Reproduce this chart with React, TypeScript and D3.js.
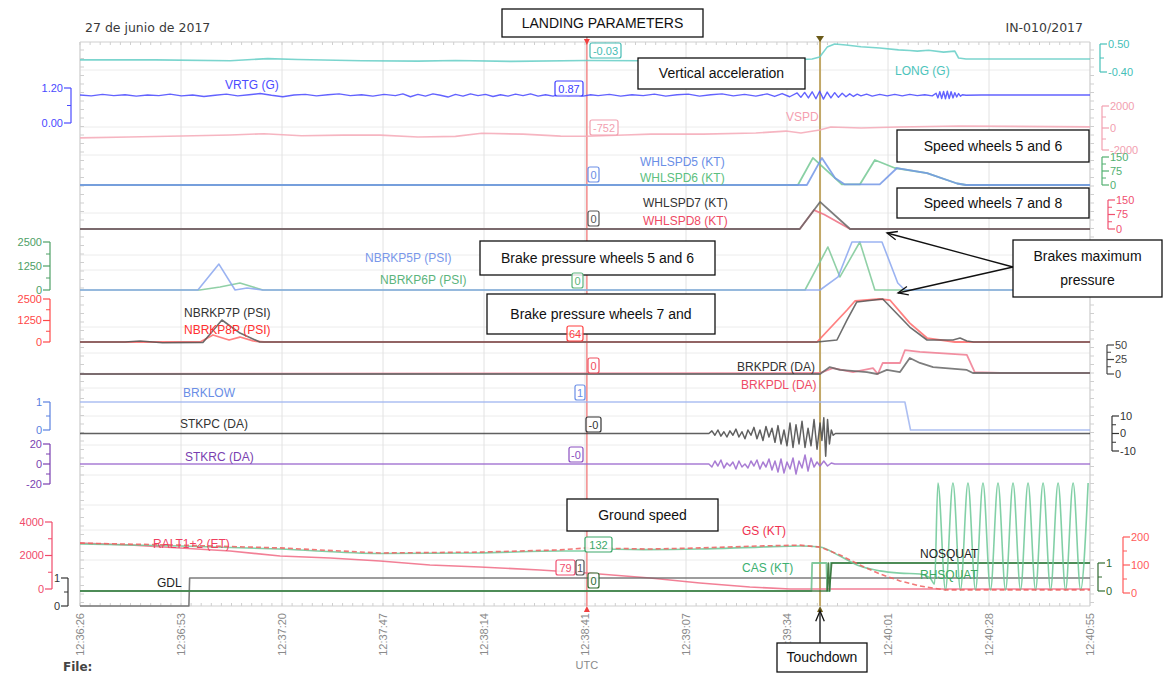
import React from "react";
import * as d3 from "d3";

type Pt = [number, number];

// time in seconds after 12:36:26 UTC
const tickTimes = [0, 26.9, 53.8, 80.7, 107.6, 134.5, 161.4, 188.3, 215.2, 242.1, 269];
const tickLabels = ["12:36:26", "12:36:53", "12:37:20", "12:37:47", "12:38:14", "12:38:41", "12:39:07", "12:39:34", "12:40:01", "12:40:28", "12:40:55"];
const cursorT = 135;
const touchdownT = 197.1;

const LONG: Pt[] = [[0, -0.01], [20, -0.01], [40, -0.04], [50, 0.03], [58, 0.0], [75, -0.04], [90, -0.05], [100, -0.03], [115, -0.06], [135, -0.03], [150, -0.04], [165, -0.07], [180, -0.05], [190, -0.01], [195, 0.02], [197, 0.08], [199, 0.4], [201, 0.5], [204, 0.47], [208, 0.41], [213, 0.37], [218, 0.31], [221, 0.29], [223, 0.27], [226, 0.3], [230, 0.24], [233, 0.27], [234, 0.05], [236, 0.02], [269, 0.02]];

const VRTG: Pt[] = [[0, 0.96], [3, 0.93], [6, 0.98], [9, 0.94], [12, 0.97], [15, 0.92], [18, 0.96], [21, 0.94], [24, 0.99], [27, 0.93], [30, 0.96], [33, 0.91], [36, 0.95], [39, 0.99], [42, 0.93], [45, 0.97], [48, 1.01], [51, 0.95], [54, 0.9], [57, 0.96], [60, 0.98], [63, 0.93], [66, 0.97], [69, 1.0], [72, 0.94], [75, 0.97], [78, 0.92], [81, 0.98], [84, 0.94], [86, 1.0], [88, 0.9], [90, 0.98], [92, 0.92], [94, 1.0], [96, 0.95], [98, 0.89], [100, 0.98], [102, 0.92], [104, 1.0], [106, 0.94], [108, 0.98], [110, 0.91], [112, 0.97], [114, 0.92], [116, 0.99], [118, 0.94], [120, 1.0], [122, 0.92], [124, 0.97], [126, 0.92], [128, 0.99], [130, 0.94], [132, 0.97], [134, 0.92], [136, 0.97], [138, 0.94], [141, 0.98], [144, 0.92], [147, 0.97], [150, 0.94], [153, 0.99], [156, 0.92], [159, 0.97], [162, 0.99], [165, 0.92], [168, 0.97], [171, 1.0], [174, 0.93], [177, 0.98], [180, 0.92], [183, 1.0], [185, 0.91], [187, 1.01], [189, 0.9], [191, 1.03], [192, 0.88], [193, 1.05], [194, 0.86], [195, 1.07], [196, 0.83], [197, 1.09], [198, 0.82], [199, 1.06], [200, 0.86], [201, 1.04], [202, 0.88], [203, 1.02], [204, 0.9], [205, 1.0], [206, 0.91], [207, 0.99], [208, 0.93], [209.5, 0.99], [211, 0.92], [213, 0.98], [215, 0.93], [217, 0.98], [219, 0.93], [221, 0.98], [223, 0.94], [225, 0.97], [227, 0.93], [228, 1.02], [228.5, 0.86], [229, 1.07], [229.5, 0.84], [230, 1.08], [230.5, 0.83], [231, 1.09], [231.5, 0.84], [232, 1.07], [232.5, 0.86], [233, 1.04], [233.5, 0.89], [234, 1.01], [234.5, 0.92], [235, 0.97], [236, 0.95], [240, 0.96], [269, 0.96]];

const VSPD: Pt[] = [[0, -900], [13, -820], [27, -730], [40, -640], [49, -520], [59, -700], [70, -650], [80, -650], [90, -820], [100, -760], [107, -480], [118, -560], [128, -740], [135, -752], [145, -640], [152, -560], [166, -560], [180, -460], [188, -280], [192, -460], [197, -180], [200, 90], [208, 0], [218, 90], [234, 180], [269, 100]];

const WHL5: Pt[] = [[0, 0], [193.6, 0], [197.6, 145], [201.1, 37], [203.7, 3], [213, 3], [217.6, 91], [225.6, 64], [233.6, 8], [236, 0], [269, 0]];
const WHL6: Pt[] = [[0, 0], [191.2, 0], [195.2, 145], [202.9, 3], [207.7, 3], [211.7, 134], [217, 91], [225.6, 64], [233.6, 8], [236, 0], [269, 0]];
const WHL7: Pt[] = [[0, 0], [191.7, 0], [197.1, 140], [205.1, 0], [269, 0]];
const WHL8: Pt[] = [[0, 0], [191.7, 0], [195.5, 98], [198.2, 75], [205.1, 0], [269, 0]];

const NB5: Pt[] = [[0, 0], [31.4, 0], [37, 1350], [41.3, 0], [44.5, 100], [48.7, 0], [197.1, 0], [201.9, 680], [205.6, 2500], [213.6, 2500], [217.8, 365], [219.7, 0], [269, 0]];
const NB6: Pt[] = [[0, 0], [31.9, 0], [37.3, 160], [42.6, 365], [46.1, 160], [48.7, 0], [193.1, 0], [199.2, 2240], [202.4, 680], [207.7, 2500], [211.7, 0], [269, 0]];
const NB7: Pt[] = [[0, 0], [12, 0], [16, 60], [22, -40], [32.8, -20], [37.8, 1280], [42.6, 520], [47.9, 0], [196.3, 0], [201.6, 116], [204.3, 1280], [206.9, 2330], [213.8, 2500], [221, 870], [225.6, 116], [232.5, 116], [234.4, 230], [236.2, 60], [238, 0], [269, 0]];
const NB8: Pt[] = [[0, 0], [32, 0], [35.4, 407], [39.7, 116], [42.6, 290], [46.1, 60], [49, 0], [196.3, 0], [204.3, 1860], [206.4, 2385], [213, 2500], [215.7, 2440], [221, 1100], [225.6, 230], [233, 0], [269, 0]];

const BRKPDR: Pt[] = [[0, 0], [197.1, 0], [199.7, 12], [202.4, 7], [209.6, 3.4], [212.3, 0], [214.9, 7], [218.4, 3.4], [221, 27.6], [223.7, 19], [227.2, 12], [236.2, 7], [237.8, 1.7], [269, 1.7]];
const BRKPDL: Pt[] = [[0, 0], [197.1, 1.7], [200.5, 10], [205.9, 3.4], [211.2, 10], [212.5, 0], [213.8, 19], [218.4, 19], [219.7, 41], [223.7, 38], [236.2, 33], [238.3, 3.4], [245, 1.7], [269, 1.7]];
const BRKLOW: Pt[] = [[0, 1], [219.7, 1], [221.2, 0], [269, 0]];

const STKPC: Pt[] = [[0, 0], [167.5, 0], [168.3, 1.5], [169.1, -1], [169.9, 2], [170.7, -1.5], [171.5, 1], [172.3, -2], [173.1, 1.5], [173.9, -1], [174.7, 2.5], [175.5, -2], [176.3, 1], [177.1, -3], [177.9, 2], [178.7, -1], [179.5, 3.5], [180.3, -3], [181.1, 2], [181.9, -4], [182.7, 4], [183.5, -2], [184.3, 3], [185.1, -5], [185.9, 4.5], [186.7, -6], [187.5, 2], [188.3, -7], [189.1, 6], [189.9, -8], [190.7, 5], [191.5, -6], [192.3, 7], [193.1, -8], [193.9, 3], [194.7, -7], [195.5, 8], [196.3, -9], [197.1, 6], [197.6, -4], [198.1, 9], [198.6, -13], [199.1, 8], [199.6, -6], [200.1, 2], [200.6, -1], [201.2, 0], [269, 0]];
const STKRC: Pt[] = [[0, 0], [167.5, 0], [168.3, -3], [169.1, 3], [169.9, -2], [170.7, 4], [171.5, -4], [172.3, 1], [173.1, -2], [173.9, 2], [174.7, -5], [175.5, 3], [176.3, -3], [177.1, 0], [177.9, -4], [178.7, 3], [179.5, -2], [180.3, 4], [181.1, -5], [181.9, 2], [182.7, -3], [183.5, 5], [184.3, -6], [185.1, 3], [185.9, -8], [186.7, 5], [187.5, -9], [188.3, 2], [189.1, -5], [189.9, 6], [190.7, -10], [191.5, 3], [192.3, -4], [193.1, 9], [193.9, -7], [194.7, 6], [195.5, -3], [196.3, 2], [197.1, -2], [198.1, 3], [199.1, -2], [200.1, 1], [201, 0], [269, 0]];

const RALT: Pt[] = [[0, 2746], [13.3, 2627], [26.6, 2448], [40, 2269], [53.3, 1970], [66.6, 1851], [79.9, 1672], [93.2, 1433], [106.5, 1313], [122.5, 1134], [135, 955], [151.8, 657], [165.1, 358], [178.4, 119], [189.1, 0], [269, 0]];
const GS: Pt[] = [[0, 178], [26.6, 171], [53.3, 161], [79.9, 143], [106.5, 146], [127.8, 154], [135, 161], [151.8, 157], [165.1, 161], [181, 168], [191.7, 171], [197.1, 164], [202.4, 136], [207.7, 100], [213, 68], [218.4, 43], [223.7, 25], [230.4, 11], [269, 11]];
const CAS: Pt[] = [[0, 175], [27, 168], [53, 157], [80, 141], [106, 143], [128, 150], [134, 150], [135.5, 157], [150, 155], [165, 157], [181, 164], [192, 168], [197, 164], [202.4, 132], [207.7, 96], [213, 79], [218.4, 71], [223.7, 68], [226.4, 54], [227.6, 32], [228.5, 393], [230.5, 11], [232.5, 393], [234.5, 11], [236.5, 393], [238.5, 11], [240.5, 393], [242.5, 11], [244.5, 393], [246.5, 11], [248.5, 393], [250.5, 11], [252.5, 393], [254.5, 11], [256.5, 393], [258.5, 11], [260.5, 393], [262.5, 11], [264.5, 393], [266.5, 11], [268.5, 393]];
const GDL: Pt[] = [[0, 0], [29, 0], [29.2, 1], [269, 1]];
const NOSQUAT: Pt[] = [[0, 0], [199, 0], [199.3, 1], [199.6, 0], [200.2, 1], [269, 1]];
const RHSQUAT: Pt[] = [[0, 0], [194.8, 0], [195, 1], [198.8, 1], [199, 0], [199.7, 0], [199.9, 1], [269, 1]];

const SANS = "Liberation Sans, Arial, sans-serif";

const x = d3.scaleLinear().domain([0, 269]).range([80, 1090]);
const yLong = d3.scaleLinear().domain([-0.4, 0.5]).range([72, 44]);
const yVrtg = d3.scaleLinear().domain([0, 1.2]).range([123, 88]);
const yVspd = d3.scaleLinear().domain([-2000, 2000]).range([150, 106]);
const yWhl56 = d3.scaleLinear().domain([0, 150]).range([185, 157]);
const yWhl78 = d3.scaleLinear().domain([0, 150]).range([229, 200]);
const yNb56 = d3.scaleLinear().domain([0, 2500]).range([290, 242]);
const yNb78 = d3.scaleLinear().domain([0, 2500]).range([342, 299]);
const yBrkpd = d3.scaleLinear().domain([0, 50]).range([374, 345]);
const yBrklow = d3.scaleLinear().domain([0, 1]).range([430, 402]);
const yStkpc = d3.scaleLinear().domain([-10, 10]).range([451, 416]);
const yStkrc = d3.scaleLinear().domain([-20, 20]).range([484, 444]);
const yRalt = d3.scaleLinear().domain([0, 4000]).range([589, 522]);
const yGdl = d3.scaleLinear().domain([0, 1]).range([606, 578]);
const ySquat = d3.scaleLinear().domain([0, 1]).range([591, 563]);
const ySpd = d3.scaleLinear().domain([0, 200]).range([593, 537]);

function Trace({ data, y, color, width = 1.6, dash, curve = d3.curveLinear, opacity = 0.85 }: any) {
  const line = d3.line<Pt>().x((d) => x(d[0])).y((d) => y(d[1])).curve(curve);
  return <path d={line(data) || ""} fill="none" stroke={color} strokeWidth={width} strokeDasharray={dash} opacity={opacity} strokeLinejoin="round" />;
}

// bracket style axis
function Bracket({ scale, ticks, minor = [], at, side, color, fmt = (v: number) => String(v) }: any) {
  const dir = side === "left" ? -1 : 1;
  const [a, b] = d3.extent(ticks as number[]) as [number, number];
  return (
    <g stroke={color} fill={color} fontFamily={SANS} fontSize={11}>
      <line x1={at} x2={at} y1={scale(a)} y2={scale(b)} strokeWidth={1.2} />
      {ticks.map((t: number) => (
        <g key={"M" + t}>
          <line x1={at} x2={at + dir * 7} y1={scale(t)} y2={scale(t)} strokeWidth={1.2} />
          <text x={at + dir * 8} y={scale(t)} dy="0.35em" textAnchor={side === "left" ? "end" : "start"} stroke="none">{fmt(t)}</text>
        </g>
      ))}
      {minor.map((t: number) => (
        <line key={"m" + t} x1={at} x2={at + dir * 4} y1={scale(t)} y2={scale(t)} strokeWidth={1} />
      ))}
    </g>
  );
}

function Arrow({ x1, y1, x2, y2 }: any) {
  const ang = Math.atan2(y1 - y2, x1 - x2);
  const h = 11, s = 0.4;
  return (
    <g stroke="#111" strokeWidth={1.3} fill="none">
      <line x1={x1} y1={y1} x2={x2} y2={y2} />
      <polyline points={`${x2 + h * Math.cos(ang - s)},${y2 + h * Math.sin(ang - s)} ${x2},${y2} ${x2 + h * Math.cos(ang + s)},${y2 + h * Math.sin(ang + s)}`} />
    </g>
  );
}

function Note({ x0, y0, w, h, lines }: any) {
  return (
    <g>
      <rect x={x0} y={y0} width={w} height={h} fill="#fff" stroke="#111" strokeWidth={1.3} />
      {lines.map((l: string, i: number) => (
        <text key={i} x={x0 + w / 2} y={y0 + h / 2 + (i - (lines.length - 1) / 2) * 24} dy="0.35em" textAnchor="middle" fontFamily={SANS} fontSize={14} fill="#111">{l}</text>
      ))}
    </g>
  );
}

const tags = [
  { t: "-0.03", c: "#45bcb4", x0: 590, y0: 43, w: 31 },
  { t: "0.87", c: "#3c3cff", x0: 555, y0: 81, w: 28 },
  { t: "-752", c: "#f2a0b0", x0: 590, y0: 120, w: 28 },
  { t: "0", c: "#6a8ee6", x0: 588, y0: 167, w: 11 },
  { t: "0", c: "#555", x0: 588, y0: 211, w: 11 },
  { t: "0", c: "#5cb47c", x0: 572, y0: 273, w: 11 },
  { t: "64", c: "#ff4040", x0: 567, y0: 326, w: 16 },
  { t: "0", c: "#f05060", x0: 588, y0: 358, w: 11 },
  { t: "1", c: "#6a8ee6", x0: 575, y0: 385, w: 10 },
  { t: "-0", c: "#333", x0: 586, y0: 417, w: 15 },
  { t: "-0", c: "#8a4fc0", x0: 569, y0: 447, w: 14 },
  { t: "132", c: "#3ca86a", x0: 585, y0: 537, w: 27 },
  { t: "79", c: "#f05070", x0: 556, y0: 560, w: 19 },
  { t: "1", c: "#555", x0: 576, y0: 560, w: 8 },
  { t: "0", c: "#2f6a2f", x0: 588, y0: 573, w: 11 },
];

const seriesLabels = [
  { t: "VRTG (G)", c: "#4b4bff", x0: 225, y0: 85 },
  { t: "LONG (G)", c: "#4cc4bc", x0: 895, y0: 71 },
  { t: "VSPD", c: "#f5a0b0", x0: 786, y0: 117 },
  { t: "WHLSPD5 (KT)", c: "#6a8ee6", x0: 640, y0: 162 },
  { t: "WHLSPD6 (KT)", c: "#5cbf80", x0: 640, y0: 178 },
  { t: "WHLSPD7 (KT)", c: "#333", x0: 643, y0: 203 },
  { t: "WHLSPD8 (KT)", c: "#ee4a64", x0: 643, y0: 221 },
  { t: "NBRKP5P (PSI)", c: "#7a98ea", x0: 365, y0: 258 },
  { t: "NBRKP6P (PSI)", c: "#5cb47c", x0: 380, y0: 280 },
  { t: "NBRKP7P (PSI)", c: "#333", x0: 184, y0: 313 },
  { t: "NBRKP8P (PSI)", c: "#ff3030", x0: 184, y0: 330 },
  { t: "BRKPDR (DA)", c: "#333", x0: 737, y0: 367 },
  { t: "BRKPDL (DA)", c: "#ee4a64", x0: 741, y0: 385 },
  { t: "BRKLOW", c: "#6a8ee6", x0: 183, y0: 393 },
  { t: "STKPC (DA)", c: "#333", x0: 180, y0: 424 },
  { t: "STKRC (DA)", c: "#7a3fb0", x0: 185, y0: 457 },
  { t: "RALT1+2 (ET)", c: "#f04060", x0: 153, y0: 544 },
  { t: "GS (KT)", c: "#f03050", x0: 742, y0: 531 },
  { t: "CAS (KT)", c: "#3cb070", x0: 742, y0: 568 },
  { t: "NOSQUAT", c: "#222", x0: 920, y0: 554 },
  { t: "RHSQUAT", c: "#3ca860", x0: 920, y0: 575 },
  { t: "GDL", c: "#222", x0: 157, y0: 583 },
];

const hGrid = [70, 127, 155, 213, 255, 270, 327, 353, 388, 416, 445, 475, 505, 530, 560];

export default function App() {
  const top = 42, bottom = 606;
  const cx = x(cursorT), tx = x(touchdownT);
  const minorTop = d3.range(0, 269, 2.69);
  const minorLeft = d3.range(top + 8, bottom, 8.5);
  return (
    <svg width={1167} height={675} style={{ position: "absolute", left: 0, top: 0, background: "#fff" }}>
      {/* grid */}
      <g stroke="#ececec" strokeWidth={1}>
        {hGrid.map((g) => <line key={g} x1={80} x2={1090} y1={g} y2={g} />)}
        {tickTimes.map((t) => <line key={t} x1={x(t)} x2={x(t)} y1={top} y2={bottom} stroke="#e2e2e2" />)}
      </g>
      <g stroke="#cfcfcf" strokeWidth={1}>
        <line x1={80} x2={1090} y1={top} y2={top} />
        <line x1={80} x2={80} y1={top} y2={bottom} />
        <line x1={1090} x2={1090} y1={top} y2={bottom} />
        <line x1={80} x2={1090} y1={bottom} y2={bottom} />
        {minorTop.map((t) => <line key={"t" + t} x1={x(t)} x2={x(t)} y1={top} y2={top + 3} />)}
        {minorTop.map((t) => <line key={"b" + t} x1={x(t)} x2={x(t)} y1={bottom} y2={bottom - 3} />)}
        {minorLeft.map((g) => <line key={"l" + g} x1={80} x2={84} y1={g} y2={g} />)}
        {minorLeft.map((g) => <line key={"r" + g} x1={1090} x2={1094} y1={g} y2={g} />)}
      </g>

      {/* cursors */}
      <line x1={cx} x2={cx} y1={37} y2={bottom} stroke="#f38a8a" strokeWidth={1.5} />
      <line x1={tx} x2={tx} y1={38} y2={bottom} stroke="#c2a868" strokeWidth={2} />

      {/* traces */}
      <Trace data={LONG} y={yLong} color="#64cec6" />
      <Trace data={VRTG} y={yVrtg} color="#4646ff" width={1.4} />
      <Trace data={VSPD} y={yVspd} color="#f5a8b6" />
      <Trace data={WHL6} y={yWhl56} color="#74c894" width={1.8} />
      <Trace data={WHL5} y={yWhl56} color="#7397e6" width={1.8} />
      <Trace data={WHL8} y={yWhl78} color="#ee6d80" width={1.8} />
      <Trace data={WHL7} y={yWhl78} color="#666" width={1.8} />
      <Trace data={NB6} y={yNb56} color="#7cc896" />
      <Trace data={NB5} y={yNb56} color="#8aa6ee" />
      <Trace data={NB8} y={yNb78} color="#ff6a6a" width={1.8} />
      <Trace data={NB7} y={yNb78} color="#555" />
      <Trace data={BRKPDL} y={yBrkpd} color="#f07b90" width={1.8} />
      <Trace data={BRKPDR} y={yBrkpd} color="#666" width={1.8} />
      <Trace data={BRKLOW} y={yBrklow} color="#9fb4f0" />
      <Trace data={STKPC} y={yStkpc} color="#444" width={1.5} />
      <Trace data={STKRC} y={yStkrc} color="#9a66cc" width={1.5} />
      <Trace data={RALT} y={yRalt} color="#f06a84" />
      <Trace data={GDL} y={yGdl} color="#666" width={1.6} />
      <Trace data={RHSQUAT} y={ySquat} color="#6cc08c" width={1.8} />
      <Trace data={NOSQUAT} y={ySquat} color="#2f6a2f" width={1.6} />
      <Trace data={CAS} y={ySpd} color="#6cc896" curve={d3.curveMonotoneX} />
      <Trace data={GS} y={ySpd} color="#f06060" dash="5 3" />

      {/* series labels */}
      {seriesLabels.map((s, i) => (
        <text key={i} x={s.x0} y={s.y0} dy="0.35em" fontFamily={SANS} fontSize={12} fill={s.c}>{s.t}</text>
      ))}

      {/* left axes */}
      <Bracket scale={yVrtg} ticks={[1.2, 0]} minor={[0.6]} at={71} side="left" color="#4a4aff" fmt={(v: number) => v.toFixed(2)} />
      <Bracket scale={yNb56} ticks={[2500, 1250, 0]} minor={[1875, 625]} at={50} side="left" color="#4ea066" />
      <Bracket scale={yNb78} ticks={[2500, 1250, 0]} minor={[1875, 625]} at={50} side="left" color="#ff4848" />
      <Bracket scale={yBrklow} ticks={[1, 0]} minor={[0.5]} at={50} side="left" color="#5a80e0" />
      <Bracket scale={yStkrc} ticks={[20, 0, -20]} minor={[10, -10]} at={50} side="left" color="#7a3fb0" />
      <Bracket scale={yRalt} ticks={[4000, 2000, 0]} minor={[3000, 1000]} at={52} side="left" color="#f04a6a" />
      <Bracket scale={yGdl} ticks={[1, 0]} minor={[0.5]} at={68} side="left" color="#333" />

      {/* right axes */}
      <Bracket scale={yLong} ticks={[0.5, -0.4]} minor={[0.05]} at={1100} side="right" color="#45c0b8" fmt={(v: number) => v.toFixed(2)} />
      <Bracket scale={yVspd} ticks={[2000, 0, -2000]} minor={[1000, -1000]} at={1102} side="right" color="#f2a0b0" />
      <Bracket scale={yWhl56} ticks={[150, 75, 0]} minor={[112.5, 37.5]} at={1102} side="right" color="#52b070" />
      <Bracket scale={yWhl78} ticks={[150, 75, 0]} minor={[112.5, 37.5]} at={1108} side="right" color="#f05070" />
      <Bracket scale={yBrkpd} ticks={[50, 25, 0]} minor={[37.5, 12.5]} at={1107} side="right" color="#444" />
      <Bracket scale={yStkpc} ticks={[10, 0, -10]} minor={[5, -5]} at={1112} side="right" color="#333" />
      <Bracket scale={ySquat} ticks={[1, 0]} minor={[0.5]} at={1098} side="right" color="#2f6a2f" />
      <Bracket scale={ySpd} ticks={[200, 100, 0]} minor={[150, 50]} at={1123} side="right" color="#ff5a5a" />

      {/* cursor markers */}
      <path d={`M${cx - 3},${top - 3} L${cx + 3},${top - 3} L${cx},${top + 3} Z`} fill="#f04040" />
      <path d={`M${cx - 3},${bottom + 6} L${cx + 3},${bottom + 6} L${cx},${bottom} Z`} fill="#f04040" />
      <path d={`M${tx - 4},${top - 6} L${tx + 4},${top - 6} L${tx},${top} Z`} fill="#6a5a18" />
      <path d={`M${tx - 3},${bottom + 6} L${tx + 3},${bottom + 6} L${tx},${bottom} Z`} fill="#6a5a18" />

      {/* time axis */}
      {tickTimes.map((t, i) => (
        <text key={t} transform={`translate(${x(t) + 4},${bottom + 7}) rotate(-90)`} textAnchor="end" fontFamily={SANS} fontSize={11} fill="#8a8a8a">{tickLabels[i]}</text>
      ))}
      <text x={cx} y={665} dy="0.35em" textAnchor="middle" fontFamily={SANS} fontSize={11} fill="#8a8a8a">UTC</text>

      {/* header */}
      <text x={85} y={28} dy="0.35em" fontFamily="DejaVu Sans, sans-serif" fontSize={12.5} fill="#3a3a3a">27 de junio de 2017</text>
      <text x={1083} y={28} dy="0.35em" textAnchor="end" fontFamily="DejaVu Sans, sans-serif" fontSize={12.5} fill="#3a3a3a">IN-010/2017</text>
      <text x={63} y={667} dy="0.35em" fontFamily="DejaVu Sans, sans-serif" fontSize={12} fontWeight="bold" fill="#444">File:</text>

      {/* annotations */}
      <Note x0={502} y0={9} w={201} h={28} lines={["LANDING PARAMETERS"]} />
      <Note x0={638} y0={58} w={167} h={31} lines={["Vertical acceleration"]} />
      <Note x0={897} y0={130} w={192} h={32} lines={["Speed wheels 5 and 6"]} />
      <Note x0={897} y0={188} w={192} h={30} lines={["Speed wheels 7 and 8"]} />
      <Note x0={480} y0={241} w={235} h={34} lines={["Brake pressure wheels 5 and 6"]} />
      <Note x0={487} y0={294} w={228} h={40} lines={["Brake pressure wheels 7 and"]} />
      <Note x0={1013} y0={240} w={149} h={57} lines={["Brakes maximum", "pressure"]} />
      <Arrow x1={1013} y1={267} x2={887} y2={233} />
      <Arrow x1={1013} y1={267} x2={898} y2={293} />
      <Note x0={567} y0={499} w={151} h={32} lines={["Ground speed"]} />
      <Note x0={777} y0={643} w={90} h={29} lines={["Touchdown"]} />
      <Arrow x1={820} y1={643} x2={820} y2={611} />

      {/* value tags at cursor, drawn over the notes */}
      {tags.map((g, i) => (
        <g key={i}>
          <rect x={g.x0} y={g.y0} width={g.w} height={15} rx={2} fill="#fff" fillOpacity={0.85} stroke={g.c} strokeWidth={1.2} />
          <text x={g.x0 + g.w / 2} y={g.y0 + 8} dy="0.35em" textAnchor="middle" fontFamily={SANS} fontSize={11} fill={g.c}>{g.t}</text>
        </g>
      ))}
    </svg>
  );
}
